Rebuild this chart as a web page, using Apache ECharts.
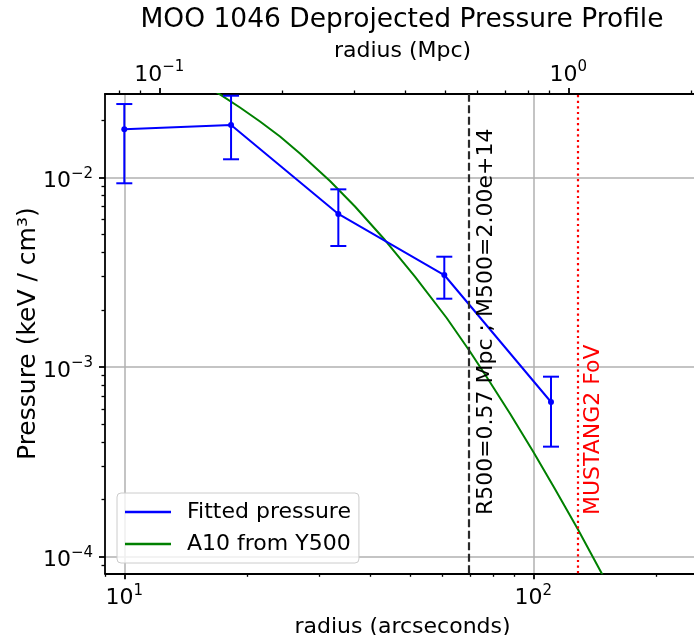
<!DOCTYPE html>
<html><head><meta charset="utf-8">
<script src="https://cdn.jsdelivr.net/npm/echarts@6/dist/echarts.min.js"></script>
<style>html,body{margin:0;padding:0;background:#fff}#c{width:694px;height:635px}</style>
</head><body><div id="c"></div>
<script>
// ---------- data ----------
const TITLE = 'MOO 1046 Deprojected Pressure Profile';
const FIT_RADIUS   = [10, 18.24, 33.37, 60.6, 110.5];
const FIT_PRESSURE = [0.01792, 0.01888, 0.006404, 0.003051, 0.000652];
const FIT_LOW      = [0.00930, 0.01245, 0.00434, 0.002288, 0.000379];
const FIT_HIGH     = [0.02436, 0.02695, 0.00864, 0.003811, 0.000887];
const A10_RADIUS   = [15.31, 16.98, 19.18, 21.47, 24.03, 26.89, 31.84, 36.65, 43.39, 51.37, 61.42, 70.01, 77.49, 87.71, 100, 113.0, 128.45, 146.98, 158.42];
const A10_PRESSURE = [0.031838, 0.027747, 0.023346, 0.019691, 0.016418, 0.013354, 0.009561, 0.007014, 0.004668, 0.002988, 0.0018093, 0.001204, 0.0008621, 0.000567, 0.0003564, 0.0002265, 0.0001393, 0.00008134, 0.00005881];
const R500_MPC = 0.57;
const M500_TEXT = '2.00e+14';
const ARCSEC_PER_MPC = 121.8;
const FOV_ARCSEC = 128.5;
const TEXT_Y = 1.65e-4;
const X_RANGE = [8.97, 255.7];
const Y_RANGE = [8.135e-5, 0.02752];
const X_MAJOR = [10, 100];
const X_MINOR = [9, 20, 30, 40, 50, 60, 70, 80, 90, 200];
const MPC_MAJOR = [0.1, 1];
const MPC_MINOR = [0.08, 0.09, 0.2, 0.3, 0.4, 0.5, 0.6, 0.7, 0.8, 0.9, 2];
const Y_MAJOR = [1e-4, 1e-3, 1e-2];
const Y_MINOR = [9e-5, 2e-4, 3e-4, 4e-4, 5e-4, 6e-4, 7e-4, 8e-4, 9e-4, 2e-3, 3e-3, 4e-3, 5e-3, 6e-3, 7e-3, 8e-3, 9e-3, 2e-2];

// ---------- chart ----------
const FONT = 'DejaVu Sans';
const BLUE = '#0000ff', GREEN = '#008000';
const chart = echarts.init(document.getElementById('c'), null, {renderer: 'canvas'});

function powLabel(v) {
  const e = Math.round(Math.log10(v));
  return '{b|10}{s|' + String(e).replace('-', '\u2212') + '}';
}
const richLbl = {
  b: {fontSize: 22, fontFamily: FONT, color: '#000', lineHeight: 26, verticalAlign: 'bottom'},
  s: {fontSize: 15, fontFamily: FONT, color: '#000', lineHeight: 15, verticalAlign: 'top'}
};
const mpcRange = X_RANGE.map(v => v / ARCSEC_PER_MPC);

function majorAxis(extra) {
  return Object.assign({
    type: 'log', logBase: 10,
    axisLine: {show: true, onZero: false, lineStyle: {color: '#000', width: 1.8}},
    splitLine: {show: false},
    nameMoveOverlap: false,
    nameTextStyle: {fontSize: 22, fontFamily: FONT, color: '#000'},
  }, extra);
}
function minorAxis(extra) {
  return Object.assign({
    type: 'log', logBase: 10,
    axisLine: {show: false, onZero: false},
    axisLabel: {show: false},
    splitLine: {show: false}
  }, extra);
}
const majorTick = vals => ({show: true, inside: false, length: 6, customValues: vals, lineStyle: {color: '#000', width: 1.8}});
const minorTick = vals => ({show: true, inside: false, length: 3.5, customValues: vals, lineStyle: {color: '#000', width: 1.3}});

const option = {
  animation: false,
  backgroundColor: '#fff',
  title: {
    text: TITLE, left: 402, top: 7, textAlign: 'center', padding: 0,
    textStyle: {fontSize: 26.5, fontFamily: FONT, fontWeight: 'normal', color: '#000'}
  },
  legend: {
    data: ['Fitted pressure', 'A10 from Y500'],
    orient: 'vertical', left: 117, top: 493,
    icon: 'rect', itemWidth: 46, itemHeight: 2.5, itemGap: 10,
    padding: [8, 8, 8, 8],
    backgroundColor: 'rgba(255,255,255,0.8)', borderColor: '#cccccc', borderWidth: 1, borderRadius: 4,
    textStyle: {fontSize: 22, fontFamily: FONT, color: '#000', lineHeight: 22, padding: [0, 0, 0, 11]}
  },
  grid: {left: 105, right: -6, top: 94, bottom: 61.7, outerBoundsMode: 'none', containLabel: false},
  xAxis: [
    majorAxis({
      position: 'bottom', min: X_RANGE[0], max: X_RANGE[1],
      name: 'radius (arcseconds)', nameLocation: 'middle', nameGap: 43,
      axisTick: majorTick(X_MAJOR),
      axisLabel: {show: true, customValues: X_MAJOR, margin: 10, formatter: powLabel, rich: richLbl},
      splitLine: {show: true, lineStyle: {color: '#b0b0b0', width: 1.5}}
    }),
    minorAxis({position: 'bottom', min: X_RANGE[0], max: X_RANGE[1], axisTick: minorTick(X_MINOR)}),
    majorAxis({
      position: 'top', min: mpcRange[0], max: mpcRange[1],
      name: 'radius (Mpc)', nameLocation: 'middle', nameGap: 32,
      axisTick: majorTick(MPC_MAJOR),
      axisLabel: {show: true, customValues: MPC_MAJOR, margin: 8, formatter: powLabel, rich: richLbl}
    }),
    minorAxis({position: 'top', min: mpcRange[0], max: mpcRange[1], axisTick: minorTick(MPC_MINOR)})
  ],
  yAxis: [
    majorAxis({
      position: 'left', min: Y_RANGE[0], max: Y_RANGE[1],
      name: 'Pressure (keV / cm\u00b3)', nameLocation: 'middle', nameGap: 64,
      nameTextStyle: {fontSize: 25, fontFamily: FONT, color: '#000'},
      axisTick: majorTick(Y_MAJOR),
      axisLabel: {show: true, customValues: Y_MAJOR, margin: 12, formatter: powLabel, rich: richLbl, padding: [4, 0, 0, 0]},
      splitLine: {show: true, lineStyle: {color: '#b0b0b0', width: 1.5}}
    }),
    minorAxis({position: 'left', min: Y_RANGE[0], max: Y_RANGE[1], axisTick: minorTick(Y_MINOR)})
  ],
  series: [
    {
      name: 'refs', type: 'line', xAxisIndex: 0, yAxisIndex: 0, data: [], silent: true,
      markLine: {
        silent: true, symbol: ['none', 'none'], label: {show: false},
        data: [
          {xAxis: R500_MPC * ARCSEC_PER_MPC, lineStyle: {color: '#2a2a2a', width: 2.2, type: [8, 3.5]}},
          {xAxis: FOV_ARCSEC, lineStyle: {color: '#ff0000', width: 2.2, type: [2.2, 3.4]}}
        ]
      }
    },
    {
      name: 'A10 from Y500', type: 'line', xAxisIndex: 0, yAxisIndex: 0,
      data: A10_RADIUS.map((r, i) => [r, A10_PRESSURE[i]]),
      showSymbol: false, symbol: 'none', smooth: false, clip: true,
      color: GREEN, lineStyle: {color: GREEN, width: 2}
    },
    {
      name: 'Fitted pressure', type: 'line', xAxisIndex: 0, yAxisIndex: 0,
      data: FIT_RADIUS.map((r, i) => [r, FIT_PRESSURE[i]]),
      symbol: 'circle', symbolSize: 6, showSymbol: true, clip: true,
      color: BLUE, itemStyle: {color: BLUE}, lineStyle: {color: BLUE, width: 2}, z: 4
    },
    {
      name: 'Fitted pressure', type: 'custom', xAxisIndex: 0, yAxisIndex: 0,
      data: FIT_RADIUS.map((r, i) => [r, FIT_LOW[i], FIT_HIGH[i]]),
      encode: {x: 0, y: [1, 2]}, z: 4,
      renderItem: function (params, api) {
        const x = api.value(0);
        const lo = api.coord([x, api.value(1)]);
        const hi = api.coord([x, api.value(2)]);
        const hw = 8;
        const st = {stroke: BLUE, lineWidth: 2};
        return {type: 'group', children: [
          {type: 'line', shape: {x1: lo[0], y1: lo[1], x2: hi[0], y2: hi[1]}, style: st},
          {type: 'line', shape: {x1: lo[0] - hw, y1: lo[1], x2: lo[0] + hw, y2: lo[1]}, style: st},
          {type: 'line', shape: {x1: hi[0] - hw, y1: hi[1], x2: hi[0] + hw, y2: hi[1]}, style: st}
        ]};
      }
    }
  ]
};
chart.setOption(option);

const pR = chart.convertToPixel({xAxisIndex: 0, yAxisIndex: 0}, [R500_MPC * ARCSEC_PER_MPC, TEXT_Y]);
const pF = chart.convertToPixel({xAxisIndex: 0, yAxisIndex: 0}, [FOV_ARCSEC, TEXT_Y]);
chart.setOption({
  graphic: [
    {type: 'text', x: pR[0] + 18, y: pR[1], rotation: Math.PI / 2, z: 10,
     style: {text: 'R500=' + R500_MPC.toFixed(2) + ' Mpc ; M500=' + M500_TEXT, fill: '#000', fontSize: 22, fontFamily: FONT, align: 'left', verticalAlign: 'middle'}},
    {type: 'text', x: pF[0] + 15, y: pF[1], rotation: Math.PI / 2, z: 10,
     style: {text: 'MUSTANG2 FoV', fill: '#ff0000', fontSize: 22, fontFamily: FONT, align: 'left', verticalAlign: 'middle'}}
  ]
});
</script></body></html>
